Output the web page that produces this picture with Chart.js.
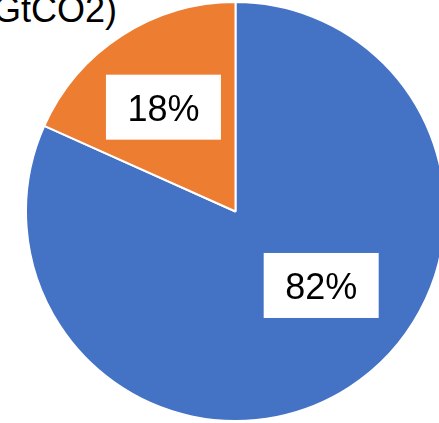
<!DOCTYPE html>
<html>
<head>
<meta charset="utf-8">
<script src="https://cdn.jsdelivr.net/npm/chart.js@4"></script>
<style>
  html, body { margin: 0; padding: 0; width: 439px; height: 423px; overflow: hidden; background: #fff; position: relative; }
  #title { position: absolute; left: -7px; top: -8px; font-family: "Liberation Sans", Arial, sans-serif; font-size: 36px; line-height: 36px; color: #000; white-space: nowrap; }
  #wrap { position: absolute; left: 25px; top: 1px; width: 421px; height: 421px; }
</style>
</head>
<body>
<div id="title">GtCO2)</div>
<div id="wrap"><canvas id="c" width="421" height="421"></canvas></div>
<script>
const categories = ["Other", "Share"];
const values = [81.7, 18.3];
const colors = ["#4472C4", "#ED7D31"];
// label box centre as fraction of radius from pie centre (style only)
const labelPos = [[0.409, 0.353], [-0.344, -0.498]];

const labelPlugin = {
  id: 'boxLabels',
  afterDatasetsDraw(chart) {
    const ctx = chart.ctx;
    const meta = chart.getDatasetMeta(0);
    const total = values.reduce((a, b) => a + b, 0);
    ctx.save();
    ctx.font = '36px "Liberation Sans", Arial, sans-serif';
    ctx.textAlign = 'center';
    ctx.textBaseline = 'alphabetic';
    meta.data.forEach((arc, i) => {
      const r = arc.outerRadius;
      const cx = arc.x + labelPos[i][0] * r;
      const cy = arc.y + labelPos[i][1] * r;
      const w = 115, h = 65;
      ctx.fillStyle = '#fff';
      ctx.fillRect(cx - w / 2, cy - h / 2, w, h);
      ctx.fillStyle = '#000';
      ctx.fillText(Math.round(values[i] / total * 100) + '%', cx, cy + 14);
    });
    ctx.restore();
  }
};

new Chart(document.getElementById('c'), {
  type: 'pie',
  data: {
    labels: categories,
    datasets: [{
      data: values,
      backgroundColor: colors,
      borderColor: '#ffffff',
      borderWidth: 2,
      hoverOffset: 0,
      offset: 0
    }]
  },
  options: {
    responsive: false,
    animation: false,
    layout: { padding: 0 },
    plugins: { legend: { display: false }, tooltip: { enabled: false }, title: { display: false } },
    events: []
  },
  plugins: [labelPlugin]
});
</script>
</body>
</html>
